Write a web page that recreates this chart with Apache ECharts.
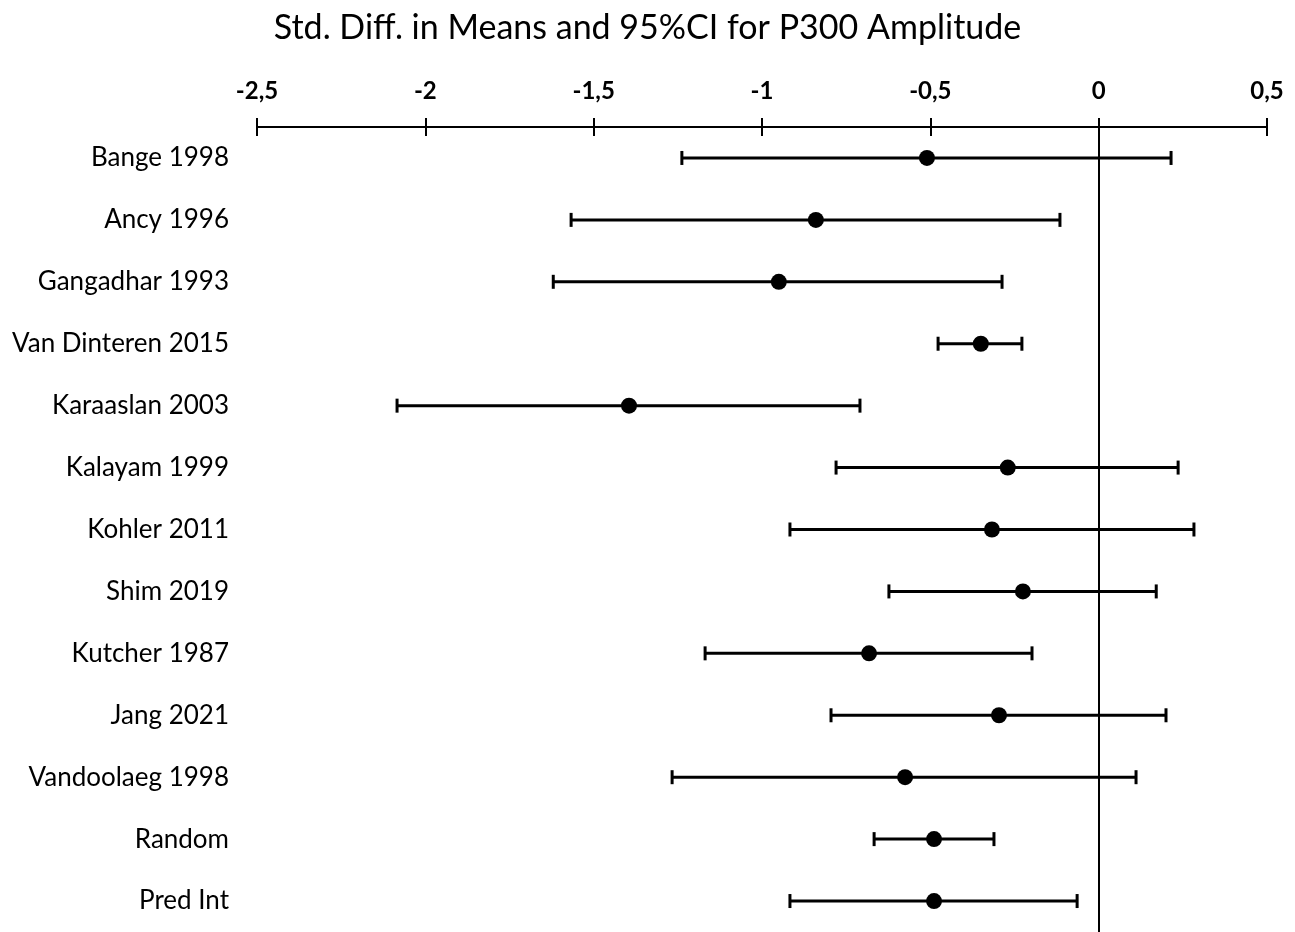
<!DOCTYPE html>
<html>
<head>
<meta charset="utf-8">
<script src="https://cdn.jsdelivr.net/npm/echarts@6/dist/echarts.min.js"></script>
<style>
  html, body { margin: 0; padding: 0; background: #fff; }
  #main { width: 1295px; height: 932px; }
</style>
</head>
<body>
<div id="main"></div>
<script>
	// studies (top to bottom)
	var studies = ['Bange 1998', 'Ancy 1996', 'Gangadhar 1993', 'Van Dinteren 2015', 'Karaaslan 2003',
		'Kalayam 1999', 'Kohler 2011', 'Shim 2019', 'Kutcher 1987', 'Jang 2021',
		'Vandoolaeg 1998', 'Random', 'Pred Int'];
	// std. diff in means
	var means = [-0.51, -0.84, -0.95, -0.35, -1.395, -0.27, -0.317, -0.225, -0.682, -0.296, -0.575, -0.489, -0.489];
	// lower / upper limits
	var lower = [-1.238, -1.567, -1.62, -0.477, -2.084, -0.78, -0.917, -0.623, -1.169, -0.795, -1.267, -0.667, -0.917];
	var upper = [0.215, -0.115, -0.287, -0.228, -0.709, 0.236, 0.283, 0.171, -0.198, 0.2, 0.111, -0.311, -0.064];
	var ticks = [-2.5, -2, -1.5, -1, -0.5, 0, 0.5];

	var font = 'Lato';

	var ciData = [];
	var pointData = [];
	for (var i = 0; i < studies.length; i++) {
		ciData.push([lower[i], upper[i], i]);
		pointData.push([means[i], i]);
	}

	var myChart = echarts.init(document.getElementById('main'));
	var option = {
		backgroundColor: '#fff',
		animation: false,
		title: {
			text: 'Std. Diff. in Means and 95%CI for P300 Amplitude',
			left: 'center',
			top: 6,
			textStyle: { fontFamily: font, fontSize: 34, fontWeight: 'normal', color: '#000' }
		},
		grid: { left: 257, right: 28, top: 127, bottom: 0 },
		xAxis: [
			{
				type: 'value',
				position: 'top',
				min: ticks[0],
				max: ticks[ticks.length - 1],
				interval: 0.5,
				splitLine: { show: false },
				axisLine: { show: true, lineStyle: { color: '#000', width: 2 } },
				axisTick: { show: true, length: 9, lineStyle: { color: '#000', width: 2 } },
				axisLabel: {
					margin: 24,
					fontFamily: font, fontSize: 24, fontWeight: 'bold', color: '#000',
					formatter: function (v) { return String(v).replace('.', ','); }
				}
			},
			{
				// second axis only for the ticks below the line
				type: 'value',
				position: 'top',
				min: ticks[0],
				max: ticks[ticks.length - 1],
				interval: 0.5,
				splitLine: { show: false },
				axisLine: { show: false },
				axisTick: { show: true, inside: true, length: 9, lineStyle: { color: '#000', width: 2 } },
				axisLabel: { show: false }
			}
		],
		yAxis: [
			{
				type: 'category',
				data: studies,
				inverse: true,
				axisLine: { show: false },
				axisTick: { show: false },
				splitLine: { show: false },
				axisLabel: { margin: 28, fontFamily: font, fontSize: 26, color: '#000' }
			}
		],
		series: [
			{
				type: 'custom',
				xAxisIndex: 0,
				yAxisIndex: 0,
				data: ciData,
				dimensions: ['low', 'high', 'row'],
				encode: { x: ['low', 'high'], y: 'row' },
				renderItem: function (params, api) {
					var y = api.value(2);
					var p1 = api.coord([api.value(0), y]);
					var p2 = api.coord([api.value(1), y]);
					var h = 7;
					var st = { stroke: '#000', lineWidth: 3 };
					return {
						type: 'group',
						children: [
							{ type: 'line', shape: { x1: p1[0], y1: p1[1], x2: p2[0], y2: p2[1] }, style: st },
							{ type: 'line', shape: { x1: p1[0], y1: p1[1] - h, x2: p1[0], y2: p1[1] + h }, style: st },
							{ type: 'line', shape: { x1: p2[0], y1: p2[1] - h, x2: p2[0], y2: p2[1] + h }, style: st }
						]
					};
				},
				z: 2
			},
			{
				type: 'scatter',
				xAxisIndex: 0,
				yAxisIndex: 0,
				data: pointData,
				symbol: 'circle',
				symbolSize: 16,
				itemStyle: { color: '#000', opacity: 1 },
				markLine: {
					silent: true,
					symbol: 'none',
					label: { show: false },
					lineStyle: { color: '#000', width: 2, type: 'solid' },
					data: [{ xAxis: 0 }]
				},
				z: 3
			}
		]
	};
	myChart.setOption(option);
</script>
</body>
</html>
